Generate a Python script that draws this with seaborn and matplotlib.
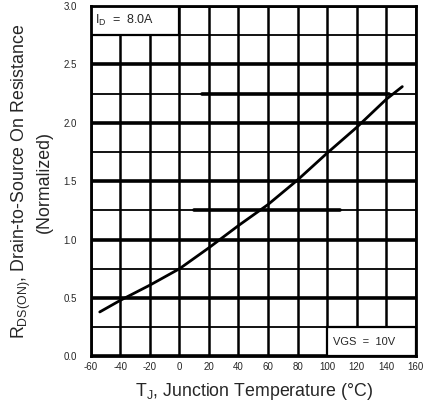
import numpy as np
import pandas as pd
import matplotlib
matplotlib.use("Agg")
import matplotlib.pyplot as plt
from matplotlib.patches import Rectangle
import seaborn as sns

sns.set_theme(style="white")
plt.rcParams['font.family'] = ['Liberation Sans', 'DejaVu Sans']
plt.rcParams['mathtext.fontset'] = 'custom'
plt.rcParams['mathtext.rm'] = 'Liberation Sans'

# --- data ---
temp_c = [-54, -40, -20, 0, 20, 40, 60, 80, 100, 120, 140, 151]
rds_norm = [0.38, 0.48, 0.61, 0.75, 0.93, 1.12, 1.30, 1.51, 1.74, 1.96, 2.20, 2.31]

x_ticks = [-60, -40, -20, 0, 20, 40, 60, 80, 100, 120, 140, 160]
y_ticks = [0.0, 0.5, 1.0, 1.5, 2.0, 2.5, 3.0]
y_minor = [0.25, 0.75, 1.25, 1.75, 2.25, 2.75]

# stray thick rules in the scanned sheet
stray_y = [2.25, 1.25]
stray_x0 = [15, 10]
stray_x1 = [142, 109]

df = pd.DataFrame({"T": temp_c, "R": rds_norm})

fig = plt.figure(figsize=(4.37, 4.04), dpi=100)
ax = fig.add_axes([0.208, 0.118, 0.743, 0.867])

for y in y_minor:
    ax.axhline(y, color="black", lw=1.3, zorder=1)
for y in y_ticks:
    ax.axhline(y, color="black", lw=2.6, zorder=1)
for x in x_ticks:
    ax.axvline(x, color="black", lw=1.8, zorder=1)
for y, a, b in zip(stray_y, stray_x0, stray_x1):
    ax.plot([a, b], [y, y], color="black", lw=2.6, zorder=1)

# label boxes blank out the grid behind them
ax.add_patch(Rectangle((-60, 2.75), 60, 0.25, facecolor="white", edgecolor="black", lw=1.6, zorder=2))
ax.add_patch(Rectangle((100, 0), 60, 0.25, facecolor="white", edgecolor="black", lw=1.6, zorder=2))

sns.lineplot(data=df, x="T", y="R", color="black", lw=2.0, ax=ax, zorder=3)

ax.set_xlim(-60, 160)
ax.set_ylim(0, 3.0)
ax.set_xticks(x_ticks)
ax.set_yticks(y_ticks)
ax.set_xticklabels([str(v) for v in x_ticks], fontsize=7)
ax.set_yticklabels([f"{v:.1f}" for v in y_ticks], fontsize=7)
ax.tick_params(axis="x", length=0, pad=4)
ax.tick_params(axis="y", length=0, pad=10)
ax.set_xlabel("")
ax.set_ylabel("")
for s in ax.spines.values():
    s.set_color("black")
    s.set_linewidth(2.0)
    s.set_zorder(5)

ax.text(-57, 2.88, "I$_{\\mathrm{D}}$  =  8.0A", fontsize=9, va="center", ha="left", zorder=4)
ax.text(104, 0.125, "VGS  =  10V", fontsize=8, va="center", ha="left", zorder=4)

fig.text(0.58, 0.03, "T$_{\\mathrm{J}}$, Junction Temperature (°C)", fontsize=12.8, ha="center", va="center")
fig.text(0.048, 0.55, "R$_{\\mathrm{DS(ON)}}$, Drain-to-Source On Resistance", fontsize=12.8,
         rotation=90, ha="center", va="center")
fig.text(0.102, 0.55, "(Normalized)", fontsize=12.8, rotation=90, ha="center", va="center")

fig.savefig("out.png", dpi=100)
